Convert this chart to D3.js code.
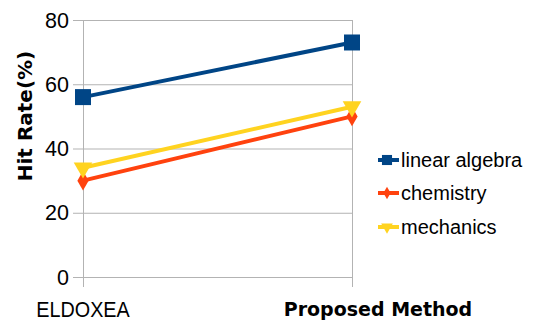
<!DOCTYPE html>
<html><head><meta charset="utf-8">
<script src="https://cdn.jsdelivr.net/npm/d3@7"></script>
<style>body{margin:0;background:#fff}svg{display:block}</style>
</head><body>
<svg id="c" width="533" height="320"></svg>
<script>
const categories = ["ELDOXEA", "Proposed Method"];
const seriesNames = ["linear algebra", "chemistry", "mechanics"];
const linearAlgebra = [56, 73];
const chemistry = [30, 50];
const mechanics = [34, 53];
const yTicks = [0, 20, 40, 60, 80];

const colors = ["#004586", "#ff420e", "#ffd320"];
const series = [linearAlgebra, chemistry, mechanics];
const svg = d3.select("#c");
const L = 83, R = 352, T = 20, B = 277;
const x = d3.scalePoint().domain(categories).range([L, R]).padding(0);
const y = d3.scaleLinear().domain([0, 80]).range([B, T]);
const grid = "#b3b3b3";

// horizontal gridlines with outer ticks
svg.append("g").selectAll("line").data(yTicks).join("line")
  .attr("x1", L - 10).attr("x2", R).attr("y1", d => y(d) + 0.5).attr("y2", d => y(d) + 0.5)
  .attr("stroke", grid).attr("stroke-width", 1);
// vertical lines at categories
svg.append("g").selectAll("line").data(categories).join("line")
  .attr("x1", d => x(d) + 0.5).attr("x2", d => x(d) + 0.5).attr("y1", T).attr("y2", B + 10)
  .attr("stroke", grid).attr("stroke-width", 1);

// y tick labels
svg.append("g").selectAll("text").data(yTicks).join("text")
  .attr("x", L - 14).attr("y", d => y(d)).attr("dy", "0.36em")
  .attr("text-anchor", "end").attr("font-family", "Liberation Sans, Arial, sans-serif")
  .attr("font-size", 21.5).attr("fill", "#000").text(d => d);

// x labels
svg.append("text").attr("transform", `translate(${x(categories[0])},316.5) scale(0.9,1)`)
  .attr("text-anchor", "middle").attr("font-family", "Liberation Sans, Arial, sans-serif")
  .attr("font-size", 22).text(categories[0]);
svg.append("text").attr("x", x(categories[1]) + 26).attr("y", 316)
  .attr("text-anchor", "middle").attr("font-family", "DejaVu Sans, Verdana, sans-serif")
  .attr("font-weight", "bold").attr("font-size", 19).text(categories[1]);

// y title
svg.append("text").attr("transform", "translate(32,116) rotate(-90)")
  .attr("text-anchor", "middle").attr("font-family", "DejaVu Sans, Verdana, sans-serif")
  .attr("font-weight", "bold").attr("font-size", 20).text("Hit Rate(%)");

const line = d3.line().x((d, i) => x(categories[i])).y(d => y(d));
const sym = [d3.symbolSquare, d3.symbolDiamond, d3.symbolTriangle];
const symSize = [256, 110, 150];

function marker(g, k, cx, cy, scale) {
  const p = d3.symbol().type(sym[k]).size(symSize[k] * scale * scale)();
  let t = `translate(${cx},${cy})`;
  if (k === 2) t += " rotate(180)";
  g.append("path").attr("d", p).attr("transform", t).attr("fill", colors[k]);
}

series.forEach((vals, k) => {
  const g = svg.append("g");
  g.append("path").datum(vals).attr("d", line).attr("fill", "none")
    .attr("stroke", colors[k]).attr("stroke-width", 4);
  vals.forEach((v, i) => marker(g, k, x(categories[i]), y(v), 1));
});

// legend
const lg = svg.append("g");
const ly = [160, 193, 227];
seriesNames.forEach((n, k) => {
  lg.append("line").attr("x1", 378).attr("x2", 399).attr("y1", ly[k]).attr("y2", ly[k])
    .attr("stroke", colors[k]).attr("stroke-width", 4);
  marker(lg, k, 387, ly[k], 0.63);
  lg.append("text").attr("x", 401).attr("y", ly[k]).attr("dy", "0.36em")
    .attr("font-family", "Liberation Sans, Arial, sans-serif").attr("font-size", 20).text(n);
});
</script>
</body></html>
